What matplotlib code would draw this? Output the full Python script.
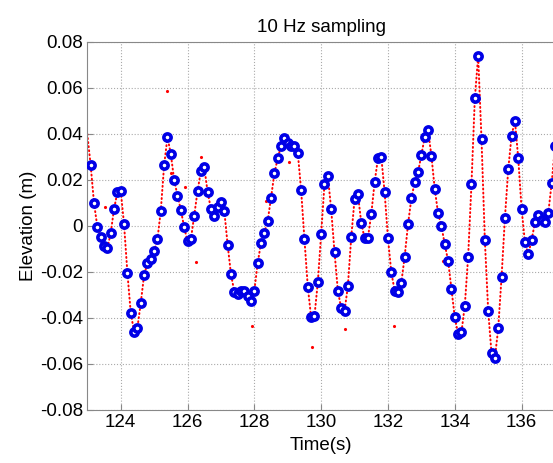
import matplotlib
matplotlib.use("Agg")
import matplotlib.pyplot as plt

plt.rcParams['font.family'] = ['Liberation Sans', 'DejaVu Sans']

# 10 Hz samples (blue circles)
t_samp = [123.1, 123.2, 123.3, 123.4, 123.5, 123.6, 123.7, 123.8, 123.9, 124.0,
          124.1, 124.2, 124.3, 124.4, 124.5, 124.6, 124.7, 124.8, 124.9, 125.0,
          125.1, 125.2, 125.3, 125.4, 125.5, 125.6, 125.7, 125.8, 125.9, 126.0,
          126.1, 126.2, 126.3, 126.4, 126.5, 126.6, 126.7, 126.8, 126.9, 127.0,
          127.1, 127.2, 127.3, 127.4, 127.5, 127.6, 127.7, 127.8, 127.9, 128.0,
          128.1, 128.2, 128.3, 128.4, 128.5, 128.6, 128.7, 128.8, 128.9, 129.0,
          129.1, 129.2, 129.3, 129.4, 129.5, 129.6, 129.7, 129.8, 129.9, 130.0,
          130.1, 130.2, 130.3, 130.4, 130.5, 130.6, 130.7, 130.8, 130.9, 131.0,
          131.1, 131.2, 131.3, 131.4, 131.5, 131.6, 131.7, 131.8, 131.9, 132.0,
          132.1, 132.2, 132.3, 132.4, 132.5, 132.6, 132.7, 132.8, 132.9, 133.0,
          133.1, 133.2, 133.3, 133.4, 133.5, 133.6, 133.7, 133.8, 133.9, 134.0,
          134.1, 134.2, 134.3, 134.4, 134.5, 134.6, 134.7, 134.8, 134.9, 135.0,
          135.1, 135.2, 135.3, 135.4, 135.5, 135.6, 135.7, 135.8, 135.9, 136.0,
          136.1, 136.2, 136.3, 136.4, 136.5, 136.6, 136.7, 136.8, 136.9, 137.0]
z_samp = [0.0265, 0.0101, -0.0003, -0.0046, -0.0087, -0.0097, -0.0032, 0.0074, 0.0146, 0.0154,
          0.0007, -0.0203, -0.0377, -0.0459, -0.0442, -0.0336, -0.0213, -0.0162, -0.0145, -0.0110,
          -0.0057, 0.0067, 0.0265, 0.0386, 0.0313, 0.0200, 0.0132, 0.0070, -0.0006, -0.0067,
          -0.0058, 0.0045, 0.0152, 0.0239, 0.0258, 0.0149, 0.0074, 0.0045, 0.0084, 0.0106,
          0.0067, -0.0081, -0.0209, -0.0286, -0.0296, -0.0281, -0.0281, -0.0303, -0.0326, -0.0281,
          -0.0162, -0.0072, -0.0029, 0.0023, 0.0123, 0.0229, 0.0294, 0.0349, 0.0381, 0.0362,
          0.0348, 0.0348, 0.0319, 0.0157, -0.0058, -0.0264, -0.0397, -0.0391, -0.0245, -0.0035,
          0.0183, 0.0219, 0.0072, -0.0113, -0.0281, -0.0358, -0.0370, -0.0261, -0.0049, 0.0116,
          0.0139, 0.0014, -0.0054, -0.0051, 0.0051, 0.0190, 0.0294, 0.0301, 0.0146, -0.0054,
          -0.0201, -0.0281, -0.0286, -0.0246, -0.0133, 0.0007, 0.0120, 0.0190, 0.0233, 0.0309,
          0.0386, 0.0417, 0.0306, 0.0161, 0.0055, 0.0000, -0.0080, -0.0151, -0.0275, -0.0397,
          -0.0470, -0.0462, -0.0346, -0.0133, 0.0183, 0.0555, 0.0739, 0.0377, -0.0061, -0.0368,
          -0.0554, -0.0575, -0.0445, -0.0223, 0.0033, 0.0246, 0.0393, 0.0458, 0.0294, 0.0074,
          -0.0071, -0.0123, -0.0061, 0.0016, 0.0048, 0.0026, 0.0016, 0.0058, 0.0186, 0.0348]

# dense record (red dots): start point and stray points
t_start = [123.0]
z_start = [0.040]
t_stray = [125.40, 123.54, 126.24, 126.40, 125.92, 125.50, 127.92, 129.72, 129.04,
           128.34, 130.70, 132.18, 133.66]
z_stray = [0.0587, 0.0084, -0.0155, 0.0301, 0.0171, 0.0229, -0.0435, -0.0528, 0.0277,
           0.0110, -0.0448, -0.0435, -0.0151]

fig = plt.figure(figsize=(5.53, 4.63), dpi=100)
ax = fig.add_axes([87.3 / 553, 1 - 410 / 463, (555 - 87.3) / 553, (410 - 42) / 463])

ax.plot(t_start + t_samp, z_start + z_samp, color='red', linestyle=(0, (0.5, 1.6)),
        linewidth=1.4, dash_capstyle='round', zorder=2)
ax.plot(t_stray, z_stray, '.', color='red', markersize=2.5, zorder=2)
ax.plot(t_samp, z_samp, 'o', markerfacecolor='white', markeredgecolor='#0000e6',
        markeredgewidth=2.6, markersize=5.2, zorder=3)

ax.set_xlim(123, 137)
ax.set_ylim(-0.08, 0.08)
ax.set_xticks([124, 126, 128, 130, 132, 134, 136])
ax.set_yticks([-0.08, -0.06, -0.04, -0.02, 0, 0.02, 0.04, 0.06, 0.08])
ax.set_yticklabels(['-0.08', '-0.06', '-0.04', '-0.02', '0', '0.02', '0.04', '0.06', '0.08'])
ax.tick_params(direction='in', labelsize=13.5, length=4, color='#888888', pad=3)
ax.grid(True, linestyle=':', color='#aaaaaa', linewidth=0.8)
for s in ax.spines.values():
    s.set_color('#888888')
ax.spines['right'].set_visible(False)

ax.set_xlabel('Time(s)', fontsize=13.5, labelpad=4)
ax.set_ylabel('Elevation (m)', fontsize=13.5, labelpad=2)
ax.set_title('10 Hz sampling', fontsize=13.5, pad=7)

fig.savefig('out.png', dpi=100)
